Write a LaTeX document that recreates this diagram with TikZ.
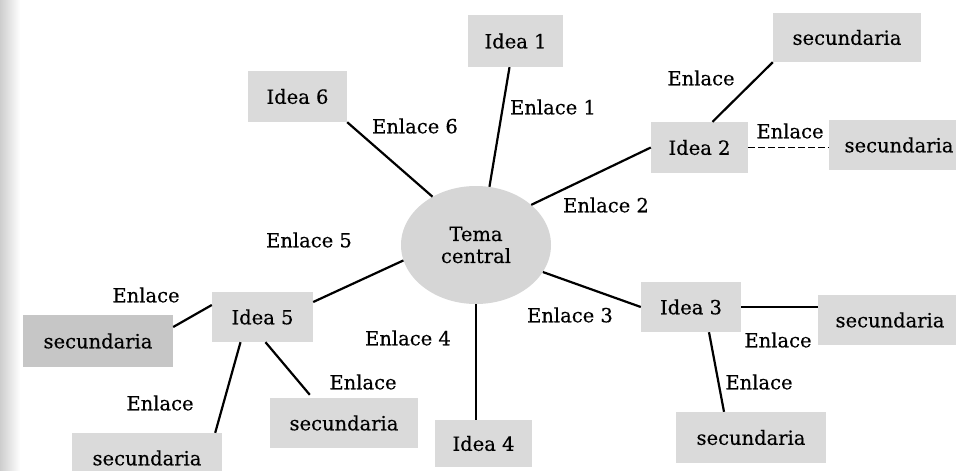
\documentclass[tikz,border=0pt]{standalone}
\usepackage{fontspec}
\setmainfont{DejaVu Serif}[FakeBold=0.4]
\usetikzlibrary{shapes.geometric}
\definecolor{boxgray}{RGB}{218,218,218}
\definecolor{darkbox}{RGB}{198,198,198}
\definecolor{elgray}{RGB}{214,214,214}
\definecolor{edgegray}{RGB}{205,205,205}
\begin{document}
\begin{tikzpicture}[x=1pt,y=-1pt,
  txt/.style={font=\fontsize{19.5}{25}\selectfont},
  box/.style={txt, fill=boxgray, draw=none, inner sep=0pt, minimum height=50pt},
  lbl/.style={txt, inner sep=0pt},
  link/.style={line width=2.2pt, black},
  dlink/.style={link, line width=1.8pt, dash pattern=on 7pt off 3pt}]
\clip (0,0) rectangle (956,471);
\fill[white] (0,0) rectangle (956,471);
\shade[left color=edgegray, right color=white] (0,0) rectangle (20,471);

% central theme
\node[ellipse, fill=elgray, minimum width=150pt, minimum height=118pt, inner sep=0pt, txt, align=center] (tema) at (476,245) {Tema\\[-3pt]central};

% main ideas
\node[box, minimum width=95pt, minimum height=52pt] (idea1) at (515.5,41) {Idea 1};
\node[box, minimum width=97pt, minimum height=51pt] (idea2) at (699.5,147.5) {Idea 2};
\node[box, minimum width=100pt] (idea3) at (691,307) {Idea 3};
\node[box, minimum width=97pt, minimum height=47pt] (idea4) at (483.5,443.5) {Idea 4};
\node[box, minimum width=101pt] (idea5) at (262.5,317) {Idea 5};
\node[box, minimum width=99pt, minimum height=51pt] (idea6) at (297.5,96.5) {Idea 6};

% secondary ideas
\node[box, minimum width=148pt, minimum height=49pt] (secA) at (847,37.5) {secundaria};
\node[box, minimum width=140pt] (secB) at (899,145) {secundaria};
\node[box, minimum width=144pt] (secC) at (890,320) {secundaria};
\node[box, minimum width=150pt, minimum height=51pt] (secD) at (751,437.5) {secundaria};
\node[box, fill=darkbox, minimum width=150pt, minimum height=52pt] (secE) at (98,341) {secundaria};
\node[box, minimum width=148pt] (secF) at (344,423) {secundaria};
\node[box, minimum width=150pt] (secG) at (147,458) {secundaria};

% connectors
\draw[link] (idea6.south east) -- (tema.132);
\draw[link] ([xshift=-6pt]idea1.south) -- (tema.77);
\draw[link] (idea2.west) -- (tema.36);
\draw[link] ([xshift=13pt]idea2.north) -- (secA.south west);
\draw[dlink] (idea2.east) -- (idea2.east -| secB.west);
\draw[link] (tema.-22) -- (idea3.west);
\draw[link] (idea3.east) -- (idea3.east -| secC.west);
\draw[link] ([xshift=18pt]idea3.south) -- ([xshift=-27pt]secD.north);
\draw[link] (tema.south) -- (tema.south |- idea4.north);
\draw[link] (tema.192) -- ([yshift=15pt]idea5.east);
\draw[link] ([yshift=12pt]idea5.west) -- ([yshift=14pt]secE.east);
\draw[link] ([xshift=-22pt]idea5.south) -- ([xshift=-7pt]secG.north east);
\draw[link] ([xshift=3pt]idea5.south) -- ([xshift=40pt,yshift=3pt]secF.north west);

% labels
\node[lbl] (l6) at (415,126) {Enlace 6};
\node[lbl] (l1) at (553,107) {Enlace 1};
\node[lbl] (l2a) at (701,78) {Enlace};
\node[lbl] (l2b) at (790,131) {Enlace};
\node[lbl] (l2) at (606,205) {Enlace 2};
\node[lbl] (l5) at (309,240) {Enlace 5};
\node[lbl] (l5a) at (146,295) {Enlace};
\node[lbl] (l4) at (408,338) {Enlace 4};
\node[lbl] (l5b) at (363,382) {Enlace};
\node[lbl] (l5c) at (160,403) {Enlace};
\node[lbl] (l3) at (570,315) {Enlace 3};
\node[lbl] (l3a) at (778,340) {Enlace};
\node[lbl] (l3b) at (759,382) {Enlace};
\end{tikzpicture}
\end{document}
